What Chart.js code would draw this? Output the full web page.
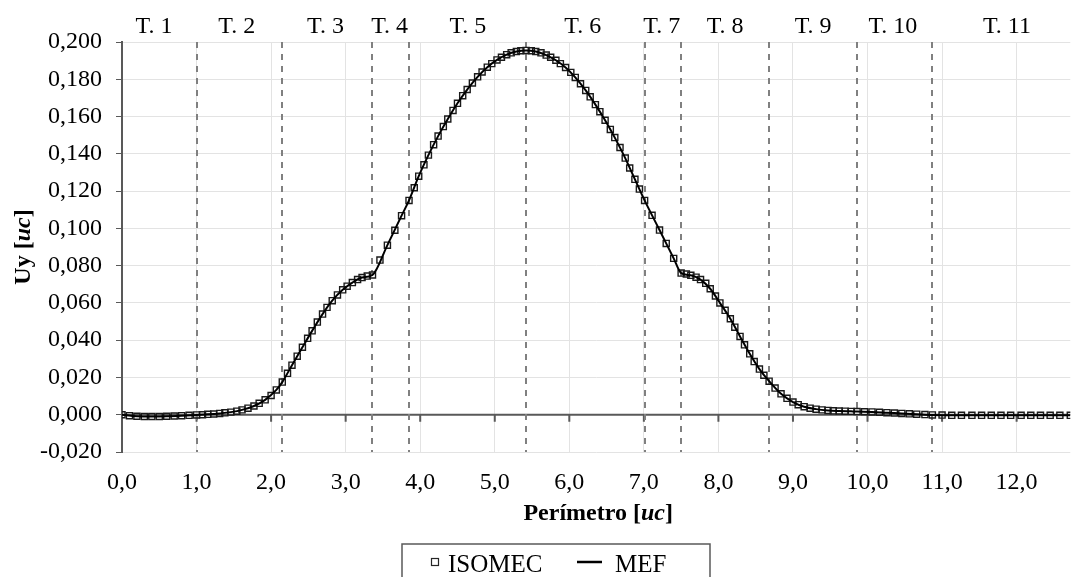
<!DOCTYPE html>
<html>
<head>
<meta charset="utf-8">
<script src="https://cdn.jsdelivr.net/npm/chart.js@4.4.1/dist/chart.umd.min.js"></script>
<style>
  html, body { margin: 0; padding: 0; background: #fff; overflow: hidden; }
  canvas { display: block; }
</style>
</head>
<body>
<canvas id="grafico" width="1076" height="577"></canvas>
<script>
// Desplazamiento vertical Uy a lo largo del perímetro (ISOMEC vs MEF)

// ISOMEC: puntos de cálculo, por tramos
const perimetro = [
  0.00, 0.10, 0.20, 0.30, 0.40, 0.50, 0.60, 0.70, 0.80, 0.90, 1.00,                        // T. 1
  1.08, 1.15, 1.23, 1.31, 1.38, 1.46, 1.54, 1.61, 1.69, 1.77, 1.84, 1.92, 2.00, 2.07, 2.15, // T. 2
  2.22, 2.28, 2.35, 2.42, 2.49, 2.55, 2.62, 2.69, 2.75, 2.82, 2.89, 2.96, 3.02, 3.09, 3.16,
  3.22, 3.29, 3.36,                                                                         // T. 3
  3.46, 3.56, 3.66, 3.75, 3.85,                                                             // T. 4
  3.92, 3.98, 4.05, 4.11, 4.18, 4.24, 4.31, 4.37, 4.44, 4.50, 4.57, 4.63, 4.70, 4.77, 4.83,
  4.90, 4.96, 5.03, 5.09, 5.16, 5.22, 5.29, 5.35, 5.42,                                     // T. 5
  5.49, 5.55, 5.62, 5.69, 5.75, 5.82, 5.88, 5.95, 6.02, 6.08, 6.15, 6.22, 6.28, 6.35, 6.41,
  6.48, 6.55, 6.61, 6.68, 6.75, 6.81, 6.88, 6.94, 7.01,                                     // T. 6
  7.11, 7.21, 7.30, 7.40, 7.50,                                                             // T. 7
  7.57, 7.63, 7.70, 7.76, 7.83, 7.89, 7.96, 8.02, 8.09, 8.16, 8.22, 8.29, 8.35, 8.42, 8.48,
  8.55, 8.61, 8.68,                                                                         // T. 8
  8.76, 8.84, 8.92, 9.00, 9.07, 9.15, 9.23, 9.31, 9.39, 9.47, 9.54, 9.62, 9.70, 9.78, 9.86, // T. 9
  9.96, 10.06, 10.16, 10.26, 10.36, 10.46, 10.56, 10.66, 10.77, 10.87,                      // T. 10
  11.00, 11.13, 11.26, 11.40, 11.53, 11.66, 11.79, 11.92, 12.06, 12.19, 12.32, 12.45, 12.58,
  12.72                                                                                     // T. 11
];
const uyIsomec = [
  0.0000, -0.0005, -0.0008, -0.0009, -0.0009, -0.0009, -0.0008, -0.0007, -0.0005, -0.0003, -0.0001,
  0.0000, 0.0002, 0.0004, 0.0007, 0.0010, 0.0014, 0.0019, 0.0026, 0.0035, 0.0047, 0.0061, 0.0080, 0.0103, 0.0133, 0.0175,
  0.0222, 0.0266, 0.0314, 0.0362, 0.0410, 0.0450, 0.0497, 0.0540, 0.0576, 0.0612, 0.0643, 0.0670, 0.0690, 0.0709, 0.0725,
  0.0736, 0.0744, 0.0750,
  0.0830, 0.0910, 0.0990, 0.1068, 0.1150,
  0.1218, 0.1280, 0.1341, 0.1393, 0.1449, 0.1495, 0.1546, 0.1587, 0.1633, 0.1671, 0.1712, 0.1745, 0.1780, 0.1813, 0.1839,
  0.1865, 0.1884, 0.1904, 0.1918, 0.1932, 0.1942, 0.1949, 0.1953, 0.1955,
  0.1953, 0.1949, 0.1942, 0.1930, 0.1918, 0.1902, 0.1884, 0.1863, 0.1837, 0.1810, 0.1776, 0.1740, 0.1706, 0.1664, 0.1626,
  0.1580, 0.1531, 0.1487, 0.1434, 0.1377, 0.1324, 0.1263, 0.1211, 0.1150,
  0.1070, 0.0991, 0.0919, 0.0839, 0.0760,
  0.0755, 0.0748, 0.0738, 0.0725, 0.0705, 0.0676, 0.0637, 0.0600, 0.0560, 0.0515, 0.0470, 0.0420, 0.0375, 0.0327, 0.0285,
  0.0245, 0.0212, 0.0180,
  0.0143, 0.0112, 0.0088, 0.0068, 0.0054, 0.0043, 0.0035, 0.0030, 0.0026, 0.0023, 0.0021, 0.0020, 0.0019, 0.0018, 0.0017,
  0.0016, 0.0015, 0.0013, 0.0011, 0.0009, 0.0007, 0.0005, 0.0003, 0.0001, -0.0001,
  -0.0002, -0.0003, -0.0003, -0.0003, -0.0003, -0.0003, -0.0003, -0.0003, -0.0003, -0.0003, -0.0003, -0.0003, -0.0003,
  -0.0003
];

// MEF: solución de referencia (línea continua)
const perimetroMef = [
  0.00, 0.20, 0.40, 0.60, 0.80, 1.00, 1.15, 1.31, 1.46, 1.61, 1.77, 1.92, 2.07, 2.15,
  2.28, 2.42, 2.55, 2.69, 2.82, 2.96, 3.09, 3.22, 3.36, 3.56, 3.75, 3.85,
  3.98, 4.11, 4.24, 4.37, 4.50, 4.63, 4.77, 4.90, 5.03, 5.16, 5.29, 5.42,
  5.55, 5.69, 5.82, 5.95, 6.08, 6.22, 6.35, 6.48, 6.61, 6.75, 6.88, 7.01,
  7.21, 7.40, 7.50, 7.63, 7.76, 7.89, 8.02, 8.16, 8.29, 8.42, 8.55, 8.68,
  8.84, 9.00, 9.15, 9.31, 9.47, 9.62, 9.78, 9.86, 10.06, 10.26, 10.46, 10.66, 10.87,
  11.13, 11.40, 11.66, 11.92, 12.19, 12.45, 12.72
];
const uyMef = [
  0.0000, -0.0008, -0.0009, -0.0008, -0.0005, -0.0001, 0.0002, 0.0007, 0.0014, 0.0026, 0.0047, 0.0080, 0.0133, 0.0175,
  0.0266, 0.0362, 0.0450, 0.0540, 0.0612, 0.0670, 0.0709, 0.0736, 0.0750, 0.0910, 0.1068, 0.1150,
  0.1280, 0.1393, 0.1495, 0.1587, 0.1671, 0.1745, 0.1813, 0.1865, 0.1904, 0.1932, 0.1949, 0.1955,
  0.1949, 0.1930, 0.1902, 0.1863, 0.1810, 0.1740, 0.1664, 0.1580, 0.1487, 0.1377, 0.1263, 0.1150,
  0.0991, 0.0839, 0.0760, 0.0748, 0.0725, 0.0676, 0.0600, 0.0515, 0.0420, 0.0327, 0.0245, 0.0180,
  0.0112, 0.0068, 0.0043, 0.0030, 0.0023, 0.0020, 0.0018, 0.0017, 0.0015, 0.0011, 0.0007, 0.0003, -0.0001,
  -0.0003, -0.0003, -0.0003, -0.0003, -0.0003, -0.0003, -0.0003
];

// marcas del eje X
const ticksX = [0, 1, 2, 3, 4, 5, 6, 7, 8, 9, 10, 11, 12];

// límites entre tramos (líneas discontinuas) y rótulos de cada tramo
const limitesTramos = [1.00, 2.15, 3.36, 3.85, 5.42, 7.01, 7.50, 8.68, 9.86, 10.87];
const nombresTramos = ['T. 1', 'T. 2', 'T. 3', 'T. 4', 'T. 5', 'T. 6', 'T. 7', 'T. 8', 'T. 9', 'T. 10', 'T. 11'];
const posNombres = [0.43, 1.54, 2.73, 3.59, 4.64, 6.18, 7.24, 8.09, 9.27, 10.34, 11.87];

const FUENTE = '"Liberation Serif", "Times New Roman", serif';
const coma = (v, d) => v.toFixed(d).replace('.', ',');

// texto con partes en distinta fuente (para la unidad en cursiva)
function textoMixto(ctx, partes, x, y) {
  let ancho = 0;
  partes.forEach(p => { ctx.font = p.font; ancho += ctx.measureText(p.t).width; });
  let cx = x - ancho / 2;
  partes.forEach(p => {
    ctx.font = p.font;
    ctx.fillText(p.t, cx, y);
    cx += ctx.measureText(p.t).width;
  });
}

const tramosPlugin = {
  id: 'tramos',
  beforeDatasetsDraw(chart) {
    const { ctx, chartArea, scales } = chart;
    const y0 = scales.y.getPixelForValue(0);
    ctx.save();
    // eje horizontal en Uy = 0 con sus marcas
    ctx.strokeStyle = '#595959';
    ctx.lineWidth = 2;
    ctx.beginPath();
    ctx.moveTo(chartArea.left, y0);
    ctx.lineTo(chartArea.right, y0);
    scales.x.ticks.forEach(t => {
      const px = scales.x.getPixelForValue(t.value);
      ctx.moveTo(px, y0);
      ctx.lineTo(px, y0 + 7);
    });
    ctx.stroke();
    // separación de tramos
    ctx.setLineDash([6, 6]);
    ctx.strokeStyle = '#808080';
    ctx.lineWidth = 2;
    limitesTramos.forEach(v => {
      const px = Math.round(scales.x.getPixelForValue(v));
      ctx.beginPath();
      ctx.moveTo(px, chartArea.top);
      ctx.lineTo(px, chartArea.bottom);
      ctx.stroke();
    });
    ctx.restore();
  },
  afterDraw(chart) {
    const { ctx, chartArea, scales } = chart;
    ctx.save();
    ctx.fillStyle = '#000';
    ctx.textBaseline = 'alphabetic';
    ctx.textAlign = 'center';
    ctx.font = '24px ' + FUENTE;
    nombresTramos.forEach((n, i) => {
      ctx.fillText(n, scales.x.getPixelForValue(posNombres[i]), 33);
    });

    ctx.textAlign = 'left';
    const negrita = 'bold 24px ' + FUENTE;
    const cursiva = 'italic bold 24px ' + FUENTE;
    textoMixto(ctx, [{ t: 'Perímetro [', font: negrita }, { t: 'uc', font: cursiva }, { t: ']', font: negrita }],
      (chartArea.left + chartArea.right) / 2 + 2, 520);

    ctx.save();
    ctx.translate(30, (chartArea.top + chartArea.bottom) / 2);
    ctx.rotate(-Math.PI / 2);
    textoMixto(ctx, [{ t: 'Uy [', font: negrita }, { t: 'uc', font: cursiva }, { t: ']', font: negrita }], 0, 0);
    ctx.restore();

    // leyenda
    ctx.strokeStyle = '#595959';
    ctx.lineWidth = 1.5;
    ctx.strokeRect(402, 544, 308, 50);
    ctx.strokeStyle = '#262626';
    ctx.lineWidth = 1.2;
    ctx.strokeRect(431.5, 558.5, 7, 7);
    ctx.strokeStyle = '#000';
    ctx.lineWidth = 2.5;
    ctx.beginPath();
    ctx.moveTo(577, 562);
    ctx.lineTo(602, 562);
    ctx.stroke();
    ctx.font = '25px ' + FUENTE;
    ctx.fillText('ISOMEC', 448, 572);
    ctx.fillText('MEF', 615, 572);
    ctx.restore();
  }
};

const ctx = document.getElementById('grafico').getContext('2d');

new Chart(ctx, {
  type: 'scatter',
  data: {
    datasets: [
      {
        label: 'MEF',
        data: perimetroMef.map((x, i) => ({ x: x, y: uyMef[i] })),
        showLine: true,
        borderColor: '#000',
        borderWidth: 2,
        pointRadius: 0,
        cubicInterpolationMode: 'monotone',
        order: 0
      },
      {
        label: 'ISOMEC',
        data: perimetro.map((x, i) => ({ x: x, y: uyIsomec[i] })),
        showLine: false,
        pointStyle: 'rect',
        pointRadius: 4.3,
        borderWidth: 1.4,
        borderColor: '#1a1a1a',
        backgroundColor: 'rgba(255,255,255,0)',
        order: 1
      }
    ]
  },
  options: {
    responsive: false,
    animation: false,
    devicePixelRatio: 1,
    layout: { padding: { top: 42, left: 0, right: 0, bottom: 0 } },
    plugins: {
      legend: { display: false },
      tooltip: { enabled: false }
    },
    scales: {
      x: {
        type: 'linear',
        min: 0,
        max: 12.72,
        afterBuildTicks: s => { s.ticks = ticksX.map(v => ({ value: v })); },
        afterFit: s => { s.height = 125; },
        border: { display: false },
        grid: { color: '#e3e3e3', lineWidth: 1, drawTicks: false },
        ticks: {
          padding: 16,
          maxRotation: 0,
          autoSkip: false,
          color: '#000',
          font: { family: FUENTE, size: 24 },
          callback: v => coma(v, 1)
        }
      },
      y: {
        min: -0.02,
        max: 0.2,
        afterFit: s => { s.width = 122; },
        border: { display: true, color: '#595959', width: 2 },
        grid: { color: '#e3e3e3', lineWidth: 1, tickColor: '#595959', tickLength: 6 },
        ticks: {
          stepSize: 0.02,
          padding: 14,
          color: '#000',
          font: { family: FUENTE, size: 24 },
          callback: v => coma(v, 3)
        }
      }
    }
  },
  plugins: [tramosPlugin]
});
</script>
</body>
</html>
